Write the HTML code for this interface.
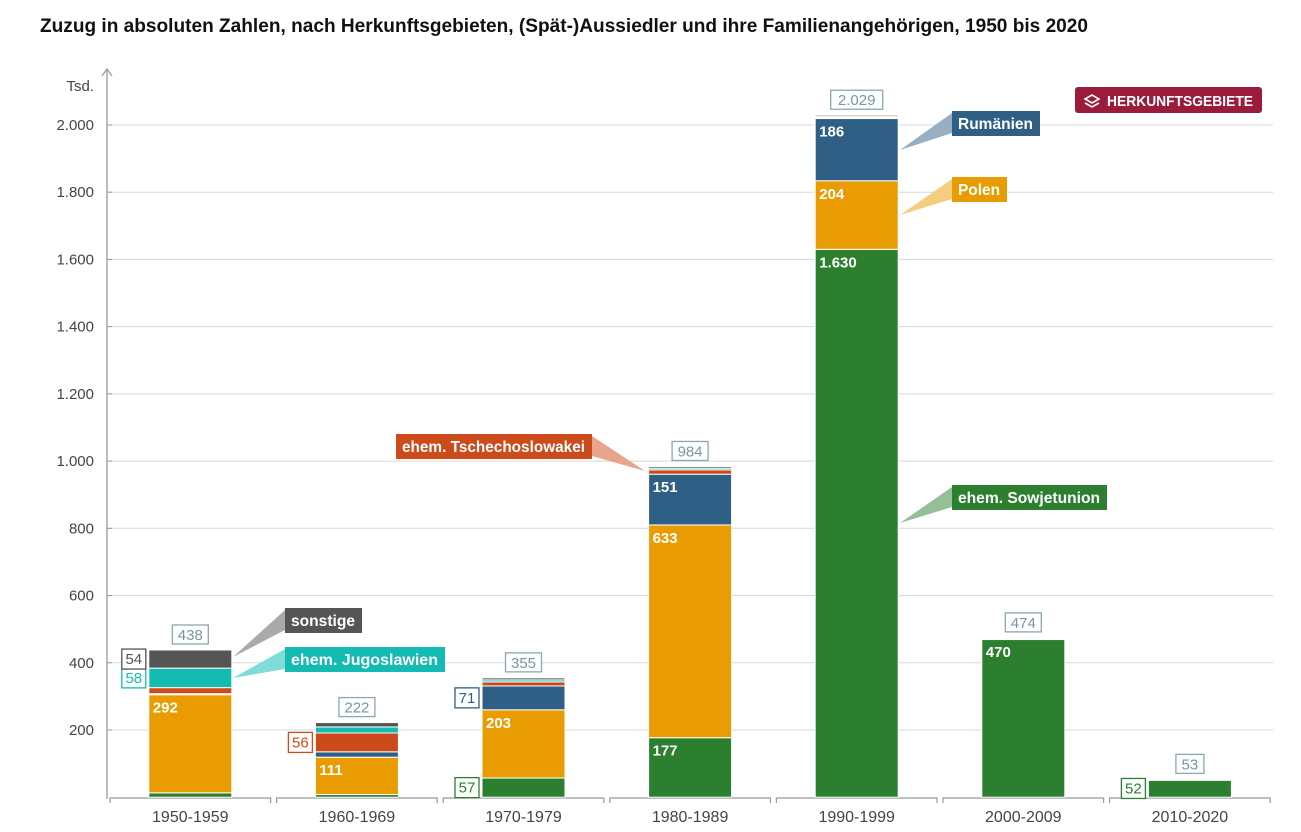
<!DOCTYPE html>
<html><head><meta charset="utf-8">
<style>
body{margin:0;background:#fff;}
svg{display:block;font-family:"Liberation Sans Narrow","Liberation Sans",sans-serif;}
</style></head>
<body>
<svg id="chart" width="1301" height="832" viewBox="0 0 1301 832">
<text x="40" y="32" font-size="19" font-weight="bold" fill="#111" textLength="1048" lengthAdjust="spacingAndGlyphs">Zuzug in absoluten Zahlen, nach Herkunftsgebieten, (Spät-)Aussiedler und ihre Familienangehörigen, 1950 bis 2020</text>
<g id="grid"></g><g id="bars"></g><g id="callouts"></g>
<g>
<rect x="1075" y="87" width="187" height="26" rx="3" fill="#9b1b3a"/>
<path d="M1085 99 l7 -4 l7 4 l-7 4z M1085 103 l7 4 l7 -4" fill="none" stroke="#fff" stroke-width="1.6"/>
<text x="1107" y="106" font-size="15" font-weight="bold" fill="#fff" textLength="146" lengthAdjust="spacingAndGlyphs">HERKUNFTSGEBIETE</text>
</g>
</svg>
<script>
const categories=["1950-1959","1960-1969","1970-1979","1980-1989","1990-1999","2000-2009","2010-2020"];
const sowjetunion=[13,8,57,177,1630,470,52];
const polen=[292,111,203,633,204,2,1];
const rumaenien=[3,16,71,151,186,1,0];
const tschecho=[18,56,12,13,2,0,0];
const jugoslawien=[58,18,6,5,3,0,0];
const sonstige=[54,13,6,5,4,1,0];
const totals=[438,222,355,984,2029,474,53];
const totalLabels=["438","222","355","984","2.029","474","53"];
const yTicks=[200,400,600,800,1000,1200,1400,1600,1800,2000];
const yTickLabels=["200","400","600","800","1.000","1.200","1.400","1.600","1.800","2.000"];
const segLabels=[[1,0,"292",1],[4,0,"58",0],[5,0,"54",0],[1,1,"111",1],[3,1,"56",0],[0,2,"57",0],[1,2,"203",1],[2,2,"71",0],[0,3,"177",1],[1,3,"633",1],[2,3,"151",1],[0,4,"1.630",1],[1,4,"204",1],[2,4,"186",1],[0,5,"470",1],[0,6,"52",0]];

const series=[sowjetunion,polen,rumaenien,tschecho,jugoslawien,sonstige];
const colors=["#2b7f2f","#e99c02","#2f5f85","#cd4a1a","#14bbb2","#555555"];
const ns="http://www.w3.org/2000/svg";
const y0=797.2, k=605/1800;
const y=v=>y0-v*k;
const step=166.6, left=107;
const xc=i=>left+step*(i+0.5);
const bw=83;
function mk(tag,attrs,parent){const e=document.createElementNS(ns,tag);for(const a in attrs)e.setAttribute(a,attrs[a]);parent.appendChild(e);return e;}
const grid=document.getElementById('grid'),bars=document.getElementById('bars'),co=document.getElementById('callouts');

yTicks.forEach((t,i)=>{
  const g=mk('line',{x1:left,x2:1273,y1:y(t),y2:y(t),stroke:"#d8d8d8","stroke-width":1},grid);
  
  
  mk('line',{x1:left,x2:left+5,y1:y(t),y2:y(t),stroke:"#999"},grid);
  const tx=mk('text',{x:94,y:y(t)+5,"text-anchor":"end","font-size":15,fill:"#444"},grid);
  tx.textContent=yTickLabels[i];
  
  
});
const ax=mk('line',{x1:left,x2:left,y1:70,y2:799,stroke:"#999","stroke-width":1.3},grid);


mk('path',{d:"M102 76 L107 69 L112 76",fill:"none",stroke:"#999","stroke-width":1.2},grid);
const tsd=mk('text',{x:94,y:91,"text-anchor":"end","font-size":15,fill:"#444"},grid);
tsd.textContent="Tsd.";



categories.forEach((c,i)=>{
  const a=left+step*i+3,b=left+step*(i+1)-3;
  mk('path',{d:`M${a} 803 L${a} 798 L${b} 798 L${b} 803`,fill:"none",stroke:"#999","stroke-width":1.2},grid);
  const t=mk('text',{x:xc(i),y:822,"text-anchor":"middle","font-size":16,fill:"#444"},grid);
  t.textContent=c;
  
  
  let acc=0;
  series.forEach((s,si)=>{
    const v=s[i]; if(v<=0)return;
    const top=y(acc+v),bot=y(acc);
    const r=mk('rect',{x:xc(i)-bw/2,y:top,width:bw,height:Math.max(bot-top,1),fill:colors[si],stroke:"#fff","stroke-width":1},bars);
    
    
    acc+=v;
  });
  const ty=y(totals[i]);
  const w=totalLabels[i].length*8+12;
  const tb=mk('g',{},bars);
  
  
  mk('rect',{x:xc(i)-w/2,y:ty-25,width:w,height:19,fill:"#fff",stroke:"#8aa6b2","stroke-width":1.3},tb);
  const tt=mk('text',{x:xc(i),y:ty-10,"text-anchor":"middle","font-size":15,fill:"#7896a4"},tb);
  tt.textContent=totalLabels[i];
});
segLabels.forEach(([si,ci,txt,inside])=>{
  let acc=0;for(let j=0;j<si;j++)acc+=series[j][ci];
  const top=y(acc+series[si][ci]),bot=y(acc);
  if(inside){
    const t=mk('text',{x:xc(ci)-bw/2+4,y:top+18,"font-size":15,"font-weight":"bold",fill:"#fff"},bars);
    t.textContent=txt;
    
    
  } else {
    const mid=(top+bot)/2;const w=txt.length*8+8;
    const bx=xc(ci)-bw/2-w-3;
    const g=mk('g',{},bars);
    
    
    mk('rect',{x:bx,y:mid-10,width:w,height:20,fill:"#fff",stroke:colors[si],"stroke-width":1.3},g);
    const t=mk('text',{x:bx+w/2,y:mid+5,"text-anchor":"middle","font-size":15,fill:colors[si]},g);
    t.textContent=txt;
  }
});
const callouts=[
 ["sonstige",285,608,77,"#555555","#aaaaaa",233,657,"l"],
 ["ehem. Jugoslawien",285,647,160,"#14bbb2","#7fdcd6",233,678,"l"],
 ["ehem. Tschechoslowakei",396,434,196,"#cd4a1a","#e8a58d",645,471,"r"],
 ["Rumänien",952,111,88,"#2f5f85","#97afc2",900,150,"l"],
 ["Polen",952,177,55,"#e99c02","#f4cd80",900,215,"l"],
 ["ehem. Sowjetunion",952,485,155,"#2b7f2f","#95bf97",900,523,"l"]];
callouts.forEach(([txt,x,yy,w,c,pc,tx,ty,side])=>{
  const g=mk('g',{},co);
  
  
  const ex=side==="l"?x:x+w;
  mk('polygon',{points:`${ex},${yy+2} ${ex},${yy+22} ${tx},${ty}`,fill:pc},g);
  mk('rect',{x:x,y:yy,width:w,height:25,fill:c},g);
  const t=mk('text',{x:x+6,y:yy+18,"font-size":16,"font-weight":"bold",fill:"#fff",textLength:w-13,lengthAdjust:"spacingAndGlyphs"},g);
  t.textContent=txt;
});
</script>
</body></html>
